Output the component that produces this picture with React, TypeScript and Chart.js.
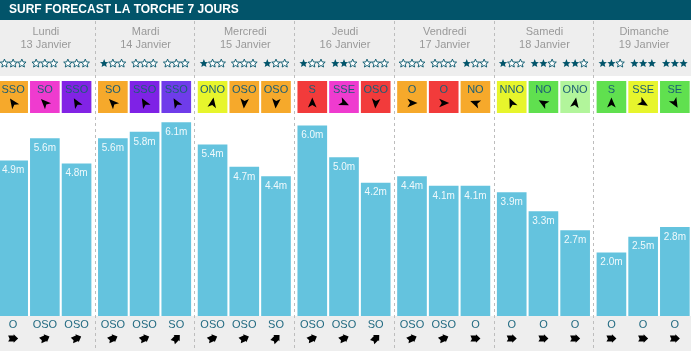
import React, { useEffect, useRef } from "react";
import { Chart, registerables } from "chart.js";

Chart.register(...registerables);

const TITLE = "SURF FORECAST LA TORCHE 7 JOURS";
const dayNames = ["Lundi", "Mardi", "Mercredi", "Jeudi", "Vendredi", "Samedi", "Dimanche"];
const dayDates = ["13 Janvier", "14 Janvier", "15 Janvier", "16 Janvier", "17 Janvier", "18 Janvier", "19 Janvier"];

// wave heights (m) for the three time slots of each day
const heightsSlot1 = [4.9, 5.6, 5.4, 6.0, 4.4, 3.9, 2.0];
const heightsSlot2 = [5.6, 5.8, 4.7, 5.0, 4.1, 3.3, 2.5];
const heightsSlot3 = [4.8, 6.1, 4.4, 4.2, 4.1, 2.7, 2.8];

// star ratings (0..3) per day, per slot
const ratings = [[0, 0, 0], [1, 0, 0], [1, 0, 1], [1, 2, 0], [0, 0, 1], [1, 2, 2], [2, 3, 3]];

// wind direction per day, per slot
const windDirs = [
  ["SSO", "SO", "SSO"], ["SO", "SSO", "SSO"], ["ONO", "OSO", "OSO"], ["S", "SSE", "OSO"],
  ["O", "O", "NO"], ["NNO", "NO", "ONO"], ["S", "SSE", "SE"],
];
const windColors = [
  ["#f6a92b", "#ef3bcf", "#8223e5"], ["#f6a92b", "#7f22e6", "#6f3cea"], ["#e7f52c", "#f6a92b", "#f6a92b"],
  ["#f23b3b", "#ef3bcf", "#f23b3b"], ["#f6a92b", "#f23b3b", "#f6a92b"], ["#e7f52c", "#60e04f", "#b2f59b"],
  ["#60e04f", "#e7f52c", "#60e04f"],
];
// wind arrow angle in degrees (0 = pointing up, clockwise)
const windArrowAngles = [
  [-35, -45, -30], [-45, -30, -30], [10, 185, 185], [0, 115, 185], [90, 90, -70], [-25, -60, 10], [0, 120, 150],
];

// swell direction per day, per slot
const swellDirs = [
  ["O", "OSO", "OSO"], ["OSO", "OSO", "SO"], ["OSO", "OSO", "SO"], ["OSO", "OSO", "SO"],
  ["OSO", "OSO", "O"], ["O", "O", "O"], ["O", "O", "O"],
];
const swellAngle: Record<string, number> = { O: 90, OSO: 67.5, SO: 45 };

const FONT = '"Liberation Sans", Arial, Helvetica, sans-serif';
const TEAL = "#02546a";
const BAR = "#64c3de";
const CANVAS_W = 698;
const CANVAS_H = 351;
const OFFSET_X = -5;

function star(ctx: CanvasRenderingContext2D, cx: number, cy: number, r: number, filled: boolean) {
  ctx.beginPath();
  for (let k = 0; k < 10; k++) {
    const rad = k % 2 === 0 ? r : r * 0.45;
    const a = -Math.PI / 2 + (k * Math.PI) / 5;
    const px = cx + rad * Math.cos(a);
    const py = cy + rad * Math.sin(a);
    if (k === 0) ctx.moveTo(px, py);
    else ctx.lineTo(px, py);
  }
  ctx.closePath();
  if (filled) {
    ctx.fillStyle = TEAL;
    ctx.fill();
  } else {
    ctx.fillStyle = "#ffffff";
    ctx.fill();
    ctx.strokeStyle = TEAL;
    ctx.lineWidth = 0.9;
    ctx.stroke();
  }
}

function navArrow(ctx: CanvasRenderingContext2D, x: number, y: number, angle: number) {
  ctx.save();
  ctx.translate(x, y);
  ctx.rotate((angle * Math.PI) / 180);
  ctx.beginPath();
  ctx.moveTo(0, -5.5);
  ctx.lineTo(4.3, 4.5);
  ctx.lineTo(0, 2);
  ctx.lineTo(-4.3, 4.5);
  ctx.closePath();
  ctx.fillStyle = "#000";
  ctx.fill();
  ctx.restore();
}

function swellArrow(ctx: CanvasRenderingContext2D, x: number, y: number, angle: number) {
  ctx.save();
  ctx.translate(x, y);
  ctx.rotate(((angle - 90) * Math.PI) / 180);
  ctx.beginPath();
  ctx.moveTo(-5, -3);
  ctx.lineTo(0.5, -3);
  ctx.lineTo(0.5, -4.3);
  ctx.lineTo(5, 0);
  ctx.lineTo(0.5, 4.3);
  ctx.lineTo(0.5, 3);
  ctx.lineTo(-5, 3);
  ctx.lineTo(-3.5, 0.5);
  ctx.closePath();
  ctx.fillStyle = "#000";
  ctx.fill();
  ctx.restore();
}

const forecastPlugin = {
  id: "forecast",
  beforeDraw(chart: any) {
    const ctx: CanvasRenderingContext2D = chart.ctx;
    const W = chart.width;
    ctx.save();
    ctx.fillStyle = "#ffffff";
    ctx.fillRect(0, 0, W, CANVAS_H);
    ctx.fillStyle = TEAL;
    ctx.fillRect(0, 0, W, 20);
    ctx.fillStyle = "#eeeeee";
    ctx.fillRect(0, 20, W, 56);
    ctx.fillRect(0, chart.chartArea.bottom, W, CANVAS_H - chart.chartArea.bottom);

    ctx.fillStyle = "#ffffff";
    ctx.font = `bold 12px ${FONT}`;
    ctx.textBaseline = "middle";
    ctx.textAlign = "left";
    ctx.fillText(TITLE, 9 - OFFSET_X, 10);

    const xs = chart.scales.x;
    ctx.textAlign = "center";
    ctx.fillStyle = "#999999";
    ctx.font = `11px ${FONT}`;
    dayNames.forEach((d, i) => {
      const cx = xs.getPixelForValue(i);
      ctx.fillText(d, cx + 1, 32);
      ctx.fillText(dayDates[i], cx + 1, 45);
    });

    // separators
    ctx.strokeStyle = "#bdbdbd";
    ctx.lineWidth = 1;
    ctx.setLineDash([3, 3]);
    for (let i = 0; i < dayNames.length - 1; i++) {
      const bx = Math.round((xs.getPixelForValue(i) + xs.getPixelForValue(i + 1)) / 2) + 0.5;
      ctx.beginPath();
      ctx.moveTo(bx, 21);
      ctx.lineTo(bx, CANVAS_H);
      ctx.stroke();
    }
    ctx.setLineDash([]);
    ctx.restore();
  },
  afterDatasetsDraw(chart: any) {
    const ctx: CanvasRenderingContext2D = chart.ctx;
    ctx.save();
    for (let s = 0; s < 3; s++) {
      const meta = chart.getDatasetMeta(s);
      meta.data.forEach((el: any, i: number) => {
        const x = el.x;
        const w = el.width;
        // value label
        ctx.fillStyle = "rgba(255,255,255,0.9)";
        ctx.font = `10px ${FONT}`;
        ctx.textAlign = "center";
        ctx.textBaseline = "middle";
        const v = chart.data.datasets[s].data[i] as number;
        ctx.fillText(v.toFixed(1) + "m", x, el.y + 10);

        // stars
        const r = ratings[i][s];
        for (let k = 0; k < 3; k++) {
          star(ctx, x - 8.7 + k * 8.7, 63.5, 4.4, k < r);
        }

        // wind box
        ctx.fillStyle = windColors[i][s];
        ctx.fillRect(x - w / 2, 81, w, 32);
        ctx.fillStyle = "#1c5e74";
        ctx.font = `11px ${FONT}`;
        ctx.fillText(windDirs[i][s], x, 89.5);
        navArrow(ctx, x, 103, windArrowAngles[i][s]);

        // swell
        ctx.fillStyle = "#236b82";
        ctx.font = `11px ${FONT}`;
        ctx.fillText(swellDirs[i][s], x, 324.5);
        swellArrow(ctx, x, 338.5, swellAngle[swellDirs[i][s]]);
      });
    }
    ctx.restore();
  },
};

export default function App() {
  const ref = useRef<HTMLCanvasElement | null>(null);
  useEffect(() => {
    if (!ref.current) return;
    const chart = new Chart(ref.current, {
      type: "bar",
      data: {
        labels: dayNames,
        datasets: [
          { label: "slot1", data: heightsSlot1, backgroundColor: BAR, borderWidth: 0 },
          { label: "slot2", data: heightsSlot2, backgroundColor: BAR, borderWidth: 0 },
          { label: "slot3", data: heightsSlot3, backgroundColor: BAR, borderWidth: 0 },
        ],
      },
      options: {
        responsive: false,
        animation: false,
        devicePixelRatio: 1,
        categoryPercentage: 0.954,
        barPercentage: 0.935,
        layout: { padding: { top: 116, bottom: 35, left: 0, right: 0 } },
        plugins: { legend: { display: false }, tooltip: { enabled: false } },
        scales: {
          x: { display: false, grid: { display: false } },
          y: { display: false, min: 0, max: 6.3, grid: { display: false } },
        },
      } as any,
      plugins: [forecastPlugin],
    });
    return () => chart.destroy();
  }, []);
  return (
    <div style={{ position: "fixed", left: 0, top: 0, width: 691, height: 351, overflow: "hidden", background: "#fff" }}>
      <canvas
        ref={ref}
        width={CANVAS_W}
        height={CANVAS_H}
        style={{ position: "absolute", left: OFFSET_X, top: 0, width: CANVAS_W, height: CANVAS_H }}
      />
    </div>
  );
}
